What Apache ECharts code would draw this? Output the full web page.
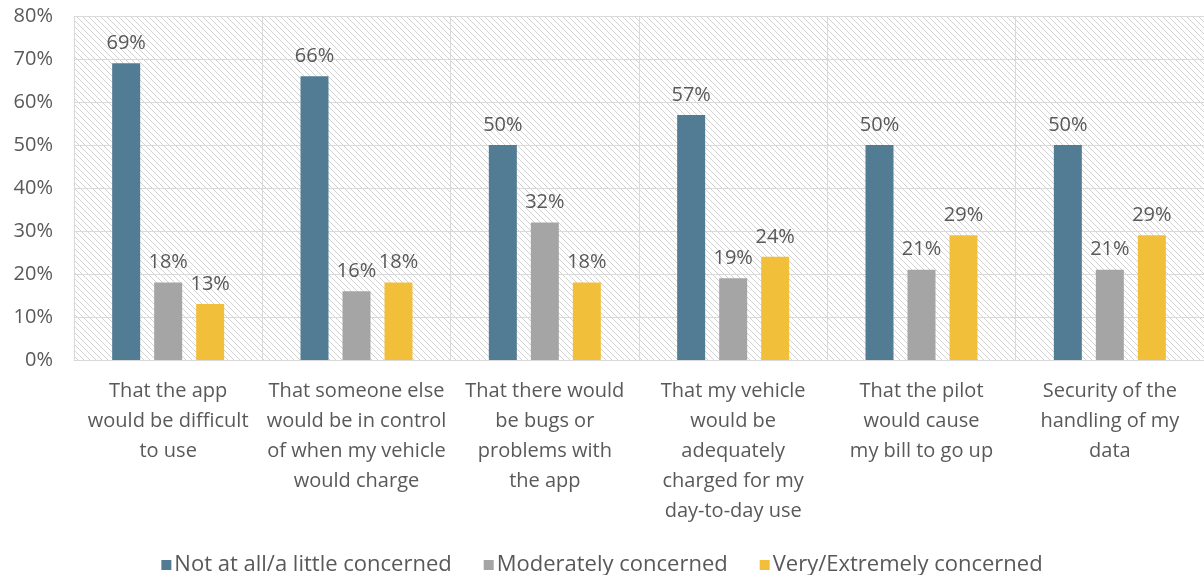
<!DOCTYPE html>
<html><head><meta charset="utf-8">
<script src="https://cdn.jsdelivr.net/npm/echarts@6/dist/echarts.min.js"></script>
<style>html,body{margin:0;padding:0;background:#fff}#c{width:1204px;height:575px}</style>
</head><body><div id="c"></div>
<script>
const categories = [
  "That the app\nwould be difficult\nto use",
  "That someone else\nwould be in control\nof when my vehicle\nwould charge",
  "That there would\nbe bugs or\nproblems with\nthe app",
  "That my vehicle\nwould be\nadequately\ncharged for my\nday-to-day use",
  "That the pilot\nwould cause\nmy bill to go up",
  "Security of the\nhandling of my\ndata"
];
const seriesNames = ["Not at all/a little concerned", "Moderately concerned", "Very/Extremely concerned"];
const notConcerned = [69, 66, 50, 57, 50, 50];
const moderately = [18, 16, 32, 19, 21, 21];
const veryConcerned = [13, 18, 18, 24, 29, 29];
const yTicks = [0, 10, 20, 30, 40, 50, 60, 70, 80];

const colors = ["#527b94", "#a5a5a5", "#f2bf3a"];
const txt = "#595959";
const font = "Open Sans";

const pc = document.createElement('canvas');
pc.width = 6; pc.height = 6;
const g = pc.getContext('2d');
g.fillStyle = '#ffffff'; g.fillRect(0,0,6,6);
g.strokeStyle = '#d2d2d2'; g.lineWidth = 1;
g.beginPath();
g.moveTo(-1,-1); g.lineTo(7,7);
g.moveTo(-4,2); g.lineTo(4,10);
g.moveTo(2,-4); g.lineTo(10,4);
g.stroke();

const chart = echarts.init(document.getElementById('c'));
const data = [notConcerned, moderately, veryConcerned];
chart.setOption({
  animation: false,
  textStyle: { fontFamily: font },
  grid: { left: 74, top: 16, width: 1138, height: 344, show: true, borderWidth: 0,
          backgroundColor: { image: pc, repeat: 'repeat' } },
  legend: {
    top: 549, left: 'center', itemWidth: 10, itemHeight: 10, itemGap: 32, icon: 'rect',
    textStyle: { color: txt, fontSize: 22, fontFamily: font, padding: [0,0,0,-2] },
    data: seriesNames
  },
  xAxis: {
    type: 'category', data: categories,
    axisLine: { show: true, lineStyle: { color: '#d9d9d9' } },
    axisTick: { show: false },
    splitLine: { show: true, lineStyle: { color: '#d9d9d9' } },
    axisLabel: { color: txt, fontSize: 20, lineHeight: 30, margin: 16, interval: 0 }
  },
  yAxis: {
    type: 'value', min: 0, max: 80, interval: 10,
    axisLine: { show: false }, axisTick: { show: false },
    splitLine: { show: true, lineStyle: { color: '#d9d9d9' } },
    axisLabel: { color: txt, fontSize: 20, margin: 21,
      formatter: v => yTicks.includes(v) ? v + '%' : '' }
  },
  series: data.map((d, i) => ({
    name: seriesNames[i], type: 'bar', data: d, barWidth: 28, barGap: '50%',
    itemStyle: { color: colors[i] },
    label: { show: true, position: 'top', distance: 10, color: txt, fontSize: 20,
      formatter: p => p.value + '%' }
  }))
});
</script></body></html>
